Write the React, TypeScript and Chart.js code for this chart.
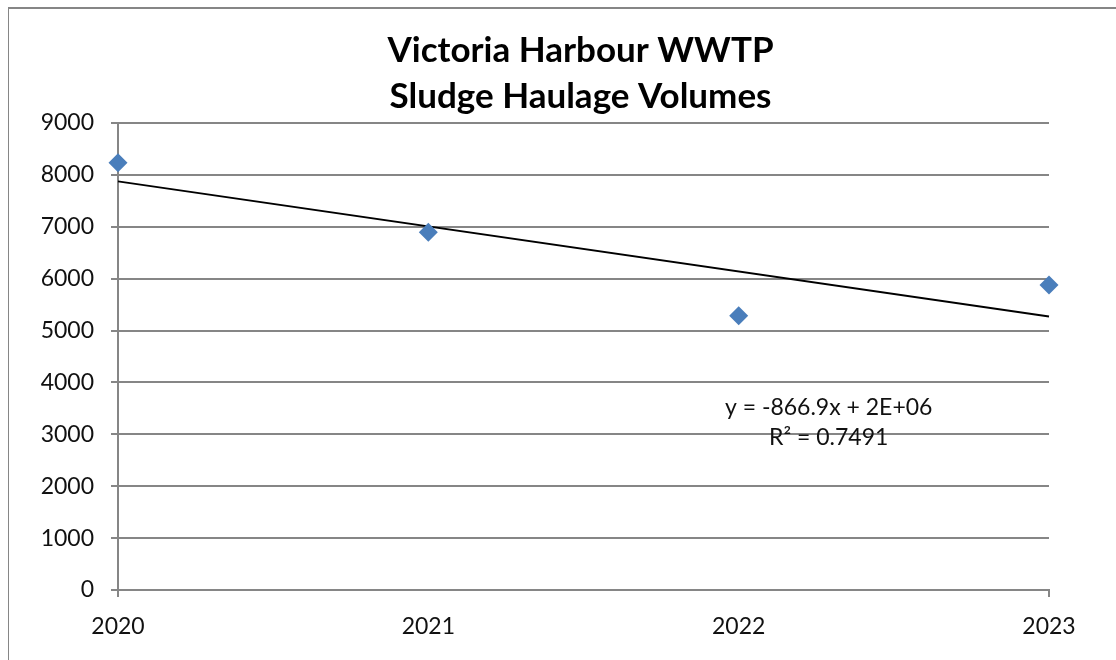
import React, { useEffect, useRef } from "react";
import { Chart, registerables } from "chart.js";

Chart.register(...registerables);

const titleLines = ["Victoria Harbour WWTP", "Sludge Haulage Volumes"];
const years = [2020, 2021, 2022, 2023];
const volumes = [8235, 6895, 5285, 5880];
const yTicks = { min: 0, max: 9000, step: 1000 };
const equationLines = ["y = -866.9x + 2E+06", "R² = 0.7491"];
const equationAnchor = { x: 2022.29, y: 3515 };

const GRID = "#868686";
const BLUE = "#4a7ebb";
const FONT = "Lato, 'Open Sans', sans-serif";

function regression(xs: number[], ys: number[]) {
  const n = xs.length;
  const mx = xs.reduce((a, b) => a + b, 0) / n;
  const my = ys.reduce((a, b) => a + b, 0) / n;
  let sxy = 0;
  let sxx = 0;
  for (let i = 0; i < n; i++) {
    sxy += (xs[i] - mx) * (ys[i] - my);
    sxx += (xs[i] - mx) * (xs[i] - mx);
  }
  const slope = sxy / sxx;
  return { slope, intercept: my - slope * mx };
}

export default function App() {
  const ref = useRef<HTMLCanvasElement | null>(null);

  useEffect(() => {
    document.documentElement.style.overflow = "hidden";
    const canvas = ref.current;
    if (!canvas) return;
    const reg = regression(years, volumes);
    const xMin = years[0];
    const xMax = years[years.length - 1];
    const trend = [
      { x: xMin, y: reg.slope * xMin + reg.intercept },
      { x: xMax, y: reg.slope * xMax + reg.intercept },
    ];

    const textPlugin = {
      id: "texts",
      afterDraw(chart: any) {
        const { ctx, chartArea, scales } = chart;
        ctx.save();
        ctx.fillStyle = "#000";
        ctx.textAlign = "center";
        ctx.textBaseline = "middle";
        ctx.font = `bold 35px ${FONT}`;
        const cx = (chartArea.left + chartArea.right) / 2 - 3;
        ctx.fillText(titleLines[0], cx, 42);
        ctx.fillText(titleLines[1], cx, 88);
        ctx.font = `23px ${FONT}`;
        ctx.fillStyle = "#111";
        const ex = scales.x.getPixelForValue(equationAnchor.x);
        const ey = scales.y.getPixelForValue(equationAnchor.y);
        ctx.fillText(equationLines[0], ex, ey);
        ctx.fillText(equationLines[1], ex, ey + 30);
        ctx.restore();
      },
    };

    const chart = new Chart(canvas, {
      type: "scatter",
      data: {
        datasets: [
          {
            label: "Trend",
            data: trend,
            showLine: true,
            borderColor: "#000",
            borderWidth: 2,
            pointRadius: 0,
            clip: false,
            order: 2,
          } as any,
          {
            label: "Volumes",
            data: years.map((x, i) => ({ x, y: volumes[i] })),
            pointStyle: "rectRot",
            pointRadius: 9.5,
            pointBackgroundColor: BLUE,
            pointBorderColor: BLUE,
            pointBorderWidth: 0,
            clip: false,
            order: 1,
          } as any,
        ],
      },
      options: {
        responsive: false,
        animation: false,
        events: [],
        layout: { padding: { left: 0, top: 114, right: 67, bottom: 0 } },
        plugins: {
          legend: { display: false },
          tooltip: { enabled: false },
          title: { display: false },
        },
        scales: {
          x: {
            type: "linear",
            min: xMin,
            max: xMax,
            afterFit: (s: any) => {
              s.height = 70;
            },
            ticks: {
              stepSize: 1,
              padding: 16,
              color: "#111",
              font: { family: FONT, size: 23 },
              callback: (v: any) => String(v),
            },
            grid: {
              drawOnChartArea: false,
              tickLength: 7,
              lineWidth: 2,
              color: (c: any) =>
                c.index === 0 || c.index === years.length - 1 ? GRID : "rgba(0,0,0,0)",
            },
            border: { display: true, color: GRID, width: 2 },
          },
          y: {
            min: yTicks.min,
            max: yTicks.max,
            afterFit: (s: any) => {
              s.width = 109;
            },
            ticks: {
              stepSize: yTicks.step,
              padding: 17,
              color: "#111",
              font: { family: FONT, size: 23 },
              callback: (v: any) => String(v),
            },
            grid: { color: GRID, lineWidth: 2, tickLength: 7 },
            border: { display: true, color: GRID, width: 2 },
          },
        },
      } as any,
      plugins: [textPlugin],
    });
    return () => chart.destroy();
  }, []);

  return (
    <div
      style={{
        position: "absolute",
        left: 8,
        top: 7,
        width: 1108,
        height: 653,
        borderTop: `2px solid ${GRID}`,
        borderLeft: `1px solid ${GRID}`,
        overflow: "hidden",
        background: "#fff",
      }}
    >
      <canvas ref={ref} width={1107} height={651} style={{ display: "block" }} />
    </div>
  );
}
